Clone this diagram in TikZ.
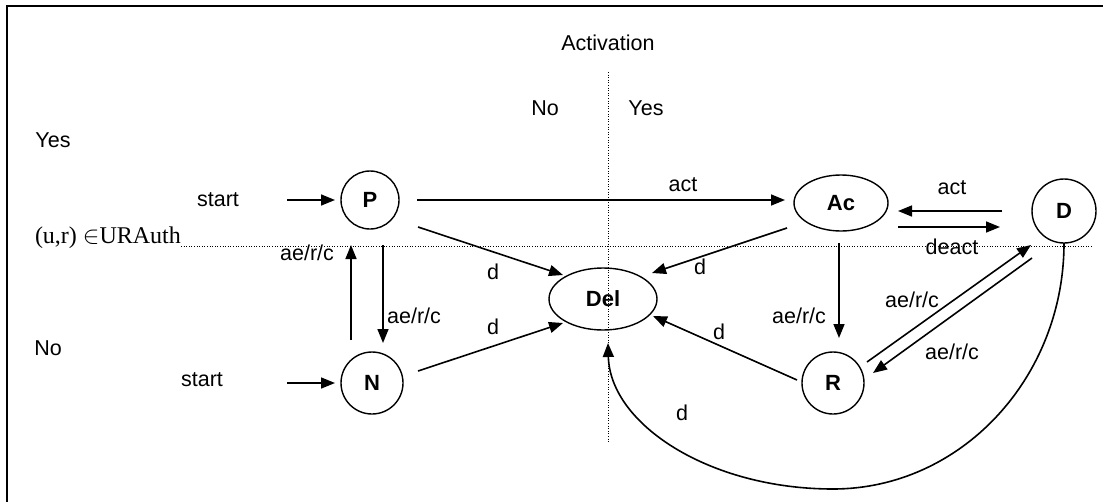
\documentclass[tikz,border=0pt]{standalone}
\usepackage{fontspec}
\setmainfont{Liberation Sans}
\newfontfamily\timesfont{Liberation Serif}
\usetikzlibrary{arrows.meta,shapes.geometric}
\begin{document}
\begin{tikzpicture}[x=1pt,y=-1pt,
  every node/.style={font=\fontsize{21.5}{25}\selectfont, inner sep=0pt, outer sep=0pt},
  state/.style={circle, draw, line width=1.4pt, minimum size=62pt, font=\fontsize{22}{26}\selectfont\bfseries},
  ellstate/.style={ellipse, draw, line width=1.4pt, font=\fontsize{22}{26}\selectfont\bfseries},
  arr/.style={line width=1.6pt, -{Triangle[length=14pt,width=11pt]}},
  dotline/.style={line width=0.9pt, dash pattern=on 1pt off 1.6pt}
]
\useasboundingbox (0,0) rectangle (1103,501);
\clip (0,0) rectangle (1103,501);
\draw[line width=2.6pt] (7,520) -- (7,6) -- (1120,6);

% dotted axes
\coordinate (vtop) at (608,72);
\coordinate (vbot) at (608,442);
\coordinate (hleft) at (181,246);
\coordinate (hright) at (1092,246);
\draw[dotline] (vtop) -- (vbot);
\draw[dotline] (hleft) -- (hright);

% axis labels
\node (activation) at (608,43) {Activation};
\node (colNo) at (545,108) {No};
\node (colYes) at (646,108) {Yes};
\node (rowYes) at (53,140) {Yes};
\node (rowNo) at (48,348) {No};
\node[anchor=base west, font=\timesfont\fontsize{24}{28}\selectfont] (ura) at (35,243) {(u,r) $\in$URAuth};

% states
\node[state, minimum size=58pt] (P) at (370,200) {P};
\node[state] (N) at (372,383) {N};
\node[state] (R) at (833,383) {R};
\node[state, minimum size=64pt] (D) at (1064,211) {D};
\node[ellstate, minimum width=94pt, minimum height=56pt] (Ac) at (841,203) {Ac};
\node[ellstate, minimum width=108pt, minimum height=62pt] (Del) at (603,299) {Del};

% start arrows
\node (startP) at (218,200) {start};
\node (startN) at (202,380) {start};
\coordinate (sP) at (287,200);
\coordinate (sN) at (287,383);
\draw[arr] (sP) -- ([shift={(-35,0)}]P.center);
\draw[arr] (sN) -- ([shift={(-37,0)}]N.center);

% P <-> N
\draw[arr] ([shift={(-21,-43)}]N.center) -- ([shift={(-19,45)}]P.center);
\draw[arr] ([shift={(13,45)}]P.center) -- ([shift={(11,-40)}]N.center);
\node (lPN1) at (307,253) {ae/r/c};
\node (lPN2) at (414,316) {ae/r/c};

% P -> Ac
\draw[arr] ([shift={(47,0)}]P.center) -- ([shift={(-56,-3)}]Ac.center);
\node (lact1) at (683,185) {act};

% to Del
\draw[arr] ([shift={(48,27)}]P.center) -- ([shift={(-40,-24)}]Del.center);
\draw[arr] ([shift={(-54,25)}]Ac.center) -- ([shift={(49,-26)}]Del.center);
\draw[arr] ([shift={(46,-12)}]N.center) -- ([shift={(-40,24)}]Del.center);
\draw[arr] ([shift={(-36,-3)}]R.center) -- ([shift={(50,17)}]Del.center);
\node (ld1) at (493,272) {d};
\node (ld2) at (700,267) {d};
\node (ld3) at (493,327) {d};
\node (ld4) at (719,332) {d};

% Ac -> R
\draw[arr] ([shift={(-2,40)}]Ac.center) -- ([shift={(6,-45)}]R.center);
\node (lAcR) at (799,316) {ae/r/c};

% Ac <-> D
\draw[arr] ([shift={(-62,0)}]D.center) -- ([shift={(57,8)}]Ac.center);
\draw[arr] ([shift={(57,24)}]Ac.center) -- ([shift={(-64,16)}]D.center);
\node (lact2) at (952,188) {act};
\node (ldeact) at (952,247) {deact};

% R <-> D
\draw[arr] ([shift={(34,-21)}]R.center) -- ([shift={(-33,34)}]D.center);
\draw[arr] ([shift={(-32,47)}]D.center) -- ([shift={(40,-10)}]R.center);
\node (lRD) at (912,300) {ae/r/c};
\node (lDR) at (952,352) {ae/r/c};

% D -> Del curve
\coordinate (cbot) at (833,489);
\draw[arr] (D.south) .. controls (1064,378) and (961,489) .. (cbot)
  .. controls (709,489) and (610,424) .. ([shift={(5,44)}]Del.center);
\node (ld5) at (682,413) {d};
\end{tikzpicture}
\end{document}
